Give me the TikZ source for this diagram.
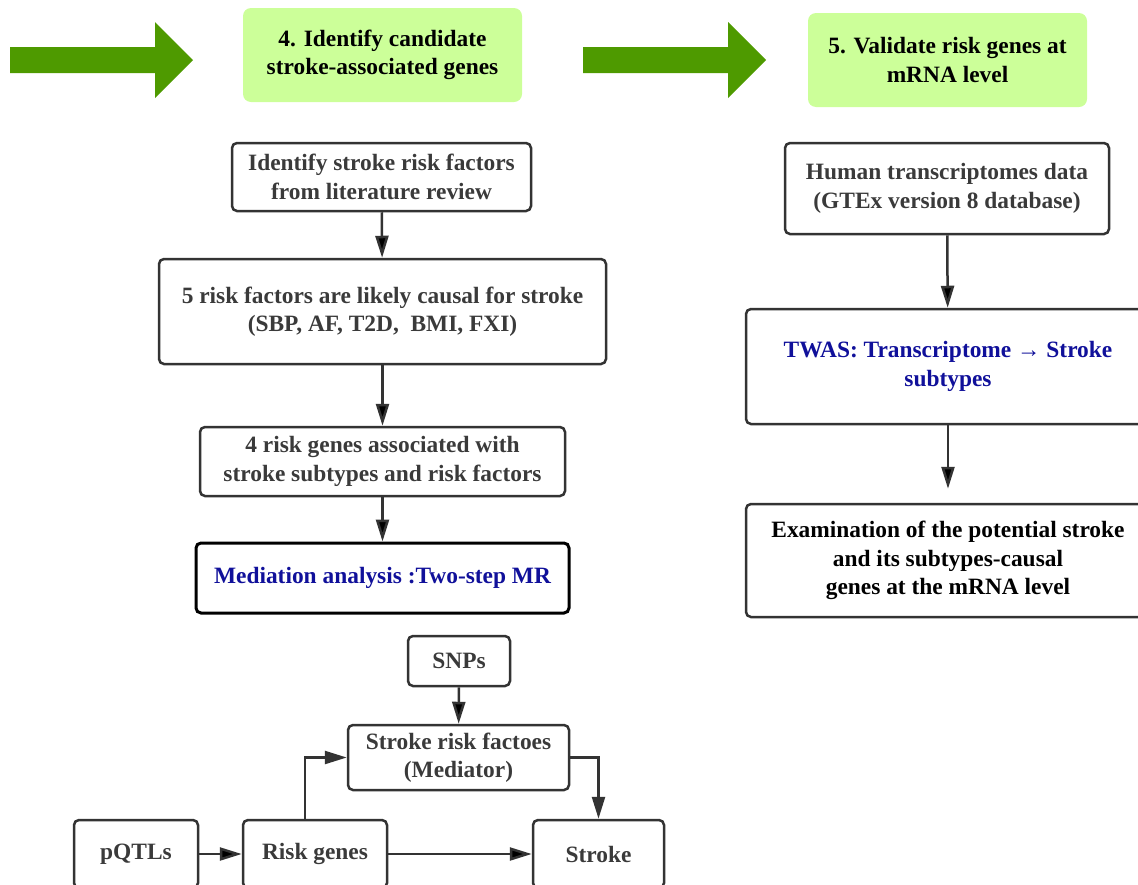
\documentclass[tikz,border=0pt]{standalone}
\usepackage{fontspec}
\setmainfont{Liberation Serif}
\usetikzlibrary{arrows.meta}
\definecolor{linegray}{HTML}{333333}
\definecolor{textgray}{HTML}{3A3A3A}
\definecolor{stepgreen}{HTML}{4E9A00}
\definecolor{stepfill}{HTML}{CCFF99}
\definecolor{twasblue}{HTML}{10109A}
\tikzset{>={Triangle[length=22pt,width=13pt]},
  box/.style={draw=linegray,line width=2.5pt,rounded corners=5pt,align=center,
    inner sep=0pt,text=textgray,font=\bfseries\fontsize{23.4}{28.5}\selectfont},
  stepbox/.style={fill=stepfill,rounded corners=8pt,align=center,inner sep=0pt,
    text=black,font=\bfseries\fontsize{23.4}{28.5}\selectfont},
  flow/.style={draw=linegray,line width=2.5pt}}

\begin{document}
\begin{tikzpicture}[x=1pt,y=-1pt]
  \useasboundingbox (0,0) rectangle (1138,884);
  \clip (0,0) rectangle (1138,884);
  \fill [stepgreen] (10,47) -- (155,47) -- (155,22) -- (193,60) -- (155,98) -- (155,73) -- (10,73) -- cycle;
  \fill [stepgreen] (583,47) -- (728,47) -- (728,22) -- (766,60) -- (728,98) -- (728,73) -- (583,73) -- cycle;
  \node [stepbox,minimum width=279pt,minimum height=94pt] (S4) at (382.5,55) {4. Identify candidate\\stroke-associated genes};
  \node [stepbox,minimum width=279pt,minimum height=94pt] (S5) at (947.5,60) {5. Validate risk genes at\\mRNA level};
  \node [box,minimum width=299pt,minimum height=68pt] (lit) at (381.5,177) {Identify stroke risk factors\\from literature review};
  \node [box,minimum width=447pt,minimum height=105pt] (five) at (382.5,311.5) {5 risk factors are likely causal for stroke\\(SBP, AF, T2D,\ \ BMI, FXI)};
  \node [box,minimum width=365pt,minimum height=69pt] (four) at (382.5,461.5) {4 risk genes associated with\\stroke subtypes and risk factors};
  \node [box,draw=black,line width=3pt,text=twasblue,minimum width=373pt,minimum height=70pt] (med) at (382.5,578) {Mediation analysis :Two-step MR};
  \node [box,minimum width=102pt,minimum height=50pt] (snps) at (459,661) {SNPs};
  \node [box,minimum width=221pt,minimum height=65pt] (mediator) at (458.5,757.5) {Stroke risk factoes\\(Mediator)};
  \node [box,minimum width=124pt,minimum height=68pt] (pqtl) at (136,854) {pQTLs};
  \node [box,minimum width=144pt,minimum height=68pt] (genes) at (315,854) {Risk genes};
  \node [box,minimum width=131pt,minimum height=68pt] (stroke) at (598.5,854) {Stroke};
  \node [box,minimum width=324pt,minimum height=91pt] (human) at (947,188.5) {Human transcriptomes data\\(GTEx version 8 database)};
  \node [box,text=twasblue,minimum width=404pt,minimum height=115pt] (twas) at (948,366.5) {TWAS: Transcriptome → Stroke\\subtypes};
  \node [box,text=black,minimum width=404pt,minimum height=113pt] (exam) at (948,560.5) {Examination of the potential stroke\\and its subtypes-causal\\genes at the mRNA level};
  \path [flow,->] (lit) edge (five);
  \path [flow,->] (five) edge (four);
  \path [flow,->] (four) edge (med);
  \path [flow,->] (snps) edge (mediator);
  \path [flow,->] (pqtl) edge (genes);
  \path [flow,->] (genes) edge (stroke);
  \draw [flow,->] ([xshift=-10pt]genes.north) |- (mediator.west);
  \draw [flow,->] (mediator.east) -| (stroke.north);
  \path [flow,->] (human) edge (twas);
  \path [flow,->,shorten >=14pt] (twas) edge (exam);
\end{tikzpicture}
\end{document}
